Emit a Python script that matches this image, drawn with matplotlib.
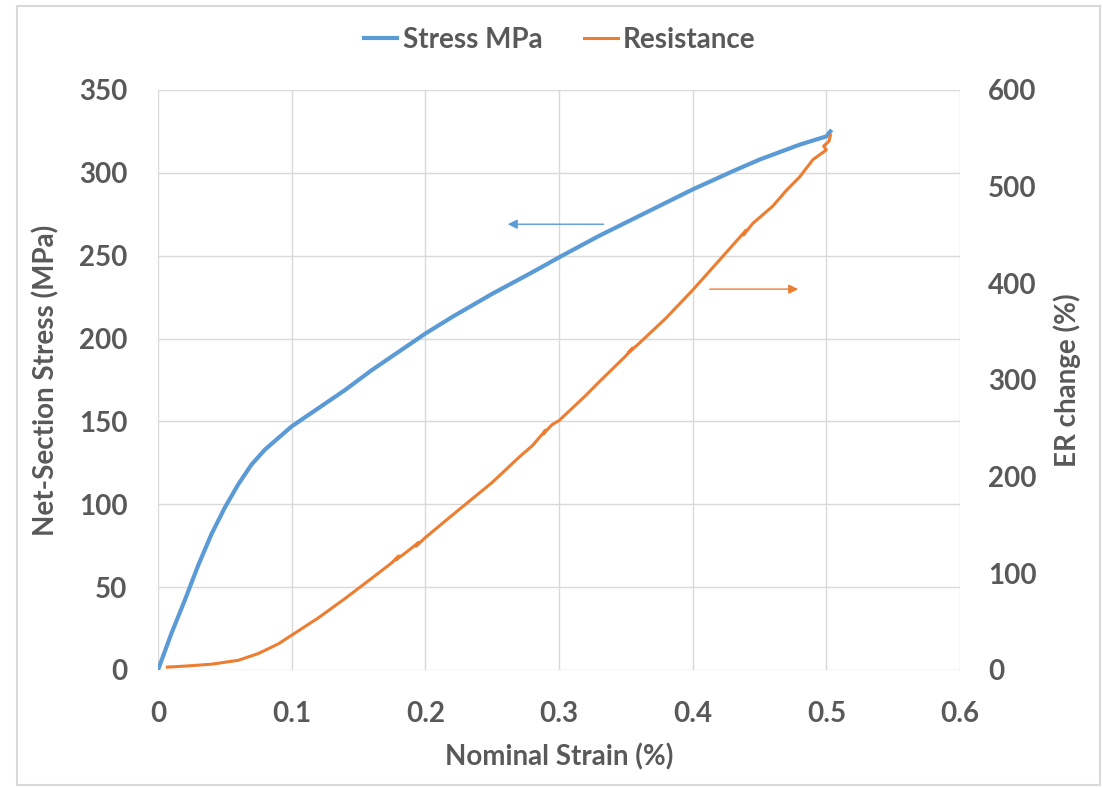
import numpy as np
import matplotlib.pyplot as plt
from matplotlib.patches import Rectangle

# data
strain_stress = [0, 0.005, 0.01, 0.02, 0.03, 0.04, 0.05, 0.06, 0.07, 0.08, 0.09, 0.1,
                 0.12, 0.14, 0.16, 0.18, 0.2, 0.22, 0.25, 0.28, 0.3, 0.33, 0.35, 0.38, 0.4,
                 0.43, 0.45, 0.48, 0.5, 0.503]
stress = [0, 11, 22, 42, 63, 82, 98, 112, 124, 133, 140, 147,
          158, 169, 181, 192, 203, 213, 227, 240, 249, 262, 270, 282, 290,
          301, 308, 317, 322, 325]

strain_res = [0.007, 0.02, 0.04, 0.06, 0.075, 0.09, 0.1, 0.12, 0.14, 0.16, 0.175, 0.18, 0.178,
              0.185, 0.195, 0.193, 0.2, 0.22, 0.25, 0.27, 0.28, 0.29, 0.288, 0.295, 0.3,
              0.32, 0.33, 0.35, 0.355, 0.352, 0.36, 0.38, 0.4, 0.42, 0.44, 0.438, 0.445,
              0.46, 0.47, 0.48, 0.49, 0.5, 0.498, 0.502, 0.503]
resistance = [3, 4, 6, 10, 17, 27, 36, 54, 74, 95, 111, 118, 114,
              121, 132, 128, 137, 160, 194, 220, 232, 248, 244, 254, 258,
              284, 298, 325, 333, 328, 338, 364, 393, 424, 455, 450, 462,
              480, 496, 510, 528, 538, 542, 547, 553]

xticks = [0, 0.1, 0.2, 0.3, 0.4, 0.5, 0.6]
xtick_labels = ['0', '0.1', '0.2', '0.3', '0.4', '0.5', '0.6']
left_ticks = [0, 50, 100, 150, 200, 250, 300, 350]
right_ticks = [0, 100, 200, 300, 400, 500, 600]

blue = '#5B9BD5'
orange = '#ED7D31'
gray = '#595959'
grid = '#d9d9d9'

plt.rcParams['font.family'] = ['Lato', 'DejaVu Sans']
plt.rcParams['font.weight'] = 'bold'
plt.rcParams['axes.labelweight'] = 'bold'

fig = plt.figure(figsize=(11.03, 7.87), dpi=100)
ax = fig.add_axes([158 / 1103, 1 - 670 / 787, (960 - 158) / 1103, (670 - 90) / 787])
ax2 = ax.twinx()

l1, = ax.plot(strain_stress, stress, color=blue, lw=3, label='Stress MPa')
l2, = ax2.plot(strain_res, resistance, color=orange, lw=2.2, label='Resistance')

ax.set_xlim(0, 0.6)
ax.set_ylim(0, 350)
ax2.set_ylim(0, 600)
ax.set_xticks(xticks, xtick_labels, fontweight='bold')
ax.set_yticks(left_ticks, [str(v) for v in left_ticks], fontweight='bold')
ax2.set_yticks(right_ticks, [str(v) for v in right_ticks], fontweight='bold')

ax.grid(True, color=grid, lw=1)
ax.set_axisbelow(True)
for a in (ax, ax2):
    for s in a.spines.values():
        s.set_visible(False)
    a.tick_params(length=0, labelsize=20, labelcolor=gray)
ax.tick_params(axis='y', pad=22)
ax.tick_params(axis='x', pad=22)
ax2.tick_params(axis='y', pad=20)

ax.set_xlabel('Nominal Strain (%)', fontsize=20, color=gray, fontweight='bold', labelpad=12)
ax.set_ylabel('Net-Section Stress (MPa)', fontsize=20, color=gray, fontweight='bold', labelpad=14)
ax2.set_ylabel('ER change (%)', fontsize=20, color=gray, fontweight='bold', labelpad=12)

# direction arrows
ax.annotate('', xy=(0.2596, 269), xytext=(0.3354, 269),
            arrowprops=dict(arrowstyle='-|>', color=blue, lw=1, mutation_scale=14))
ax2.annotate('', xy=(0.481, 394), xytext=(0.4107, 394),
             arrowprops=dict(arrowstyle='-|>', color=orange, lw=1, mutation_scale=14))

fig.legend(handles=[l1, l2], loc='center', bbox_to_anchor=(560 / 1103, 1 - 40 / 787),
           ncol=2, frameon=False, prop={'family': ['Lato'], 'weight': 'bold', 'size': 20},
           labelcolor=gray, handlelength=1.2, handletextpad=0.2, columnspacing=1.5)

# chart border
fig.patches.append(Rectangle((17 / 1103, 2 / 787), (1100 - 17) / 1103, (781 - 2) / 787,
                             transform=fig.transFigure, fill=False, ec=grid, lw=1.5))

fig.savefig('out.png', dpi=100)
